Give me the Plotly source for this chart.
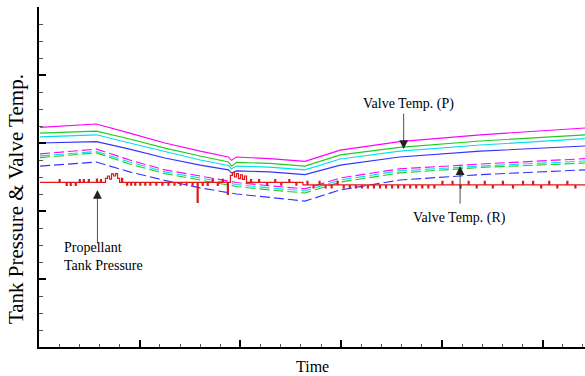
import plotly.graph_objects as go

# ---- data (arbitrary time / value units) ----
t = [1, 57, 90, 125, 160, 188, 191, 196, 229, 264, 299, 358, 438, 542]

valve_p_magenta = [64.6, 65.6, 62.9, 60.0, 57.6, 55.9, 54.9, 55.9, 55.4, 54.6, 57.9, 60.4, 62.4, 64.4]
valve_p_green   = [62.9, 63.5, 61.2, 58.5, 56.2, 54.4, 53.2, 54.3, 54.0, 53.2, 56.5, 58.7, 60.6, 62.4]
valve_p_cyan    = [61.8, 62.4, 60.0, 57.4, 55.0, 53.4, 52.4, 53.2, 52.9, 52.1, 55.3, 57.6, 59.4, 61.3]
valve_p_blue    = [60.0, 60.4, 58.2, 55.6, 53.5, 52.1, 51.2, 51.8, 51.5, 50.7, 53.5, 55.9, 57.6, 59.1]

valve_r_magenta = [56.8, 58.2, 55.0, 52.1, 50.3, 48.8, 48.5, 48.4, 47.4, 46.5, 49.7, 52.4, 53.8, 55.4]
valve_r_cyan    = [56.2, 57.5, 54.4, 51.5, 49.7, 48.2, 47.9, 47.8, 46.8, 45.9, 49.1, 51.8, 53.2, 54.7]
valve_r_green   = [55.7, 57.1, 53.8, 51.0, 49.1, 47.6, 47.4, 47.2, 46.2, 45.3, 48.5, 51.2, 52.8, 54.1]
valve_r_blue    = [53.2, 54.4, 51.5, 49.0, 46.8, 45.4, 45.1, 45.0, 44.0, 42.9, 46.2, 49.1, 50.7, 52.1]

tank_t = [1, 20, 21, 27, 28, 31, 32, 36, 37, 40, 41, 44, 45, 49, 50, 57, 58, 61, 62, 66,
          68, 70, 72, 74, 76, 78, 80, 82, 83, 87, 88, 91, 92, 95, 96, 100, 101, 105, 106, 110,
          111, 116, 117, 122, 123, 128, 129, 134, 135, 140, 141, 146, 147, 152, 153, 157, 158, 162, 163, 167,
          168, 172, 173, 177, 178, 182, 183, 187, 188, 190, 192, 194, 196, 198, 200, 202, 204, 206, 210, 211,
          218, 219, 226, 227, 234, 235, 240, 241, 248, 249, 255, 256, 262, 266, 267, 272, 273, 278, 279, 284,
          285, 290, 291, 296, 297, 302, 303, 308, 309, 314, 315, 320, 321, 326, 327, 332, 333, 338, 339, 344,
          345, 350, 351, 356, 357, 362, 363, 368, 369, 374, 375, 380, 381, 386, 387, 392, 393, 400, 401, 410,
          411, 418, 419, 426, 427, 434, 435, 442, 443, 450, 451, 460, 461, 470, 471, 480, 481, 490, 491, 498,
          499, 506, 507, 514, 515, 524, 525, 532, 533, 542]
tank_p = [48.4, 49.2, 48.4, 47.5, 48.4, 47.5, 48.4, 47.5, 48.4, 49.2, 48.4, 49.2, 48.4, 49.2, 48.4, 49.4, 48.4, 49.2, 48.4, 49.6,
          50.3, 49.4, 50.9, 50.3, 51.0, 49.6, 48.4, 49.6, 48.4, 47.6, 48.4, 47.6, 48.4, 47.6, 48.4, 47.6, 48.4, 47.6, 48.4, 47.6,
          48.4, 47.6, 48.4, 47.6, 48.4, 47.6, 48.4, 47.6, 48.4, 47.6, 48.4, 47.6, 48.4, 47.6, 48.4, 42.5, 48.4, 47.5, 48.4, 47.5,
          48.4, 49.3, 48.4, 47.5, 48.4, 49.3, 48.4, 44.9, 48.4, 50.5, 51.3, 50.0, 51.0, 49.5, 50.6, 49.3, 50.3, 48.4, 49.2, 48.4,
          49.2, 48.4, 47.6, 48.4, 49.2, 48.4, 47.6, 48.4, 49.2, 48.4, 47.6, 48.4, 47.7, 48.7, 47.7, 46.8, 47.7, 48.7, 47.7, 46.8,
          47.7, 46.8, 47.7, 48.7, 47.7, 46.8, 47.7, 46.8, 47.7, 46.8, 47.7, 46.8, 47.7, 46.8, 47.7, 46.8, 47.7, 46.8, 47.7, 46.8,
          47.7, 46.8, 47.7, 46.8, 47.7, 46.8, 47.7, 46.8, 47.7, 46.8, 47.7, 46.8, 47.7, 46.8, 47.7, 46.8, 47.7, 48.7, 47.7, 48.7,
          47.7, 46.8, 47.7, 48.7, 47.7, 46.8, 47.7, 48.7, 47.7, 46.8, 47.7, 48.7, 47.7, 46.8, 47.7, 48.7, 47.7, 48.7, 47.7, 46.8,
          47.7, 48.7, 47.7, 46.8, 47.7, 48.7, 47.7, 46.8, 47.7, 47.7]

x_title = "Time"
y_title = "Tank Pressure & Valve Temp."

SERIF = "Liberation Serif"
DASH = "10px,4px"

fig = go.Figure()

solid = [(valve_p_magenta, "#ff00ff"), (valve_p_green, "#22cc22"),
         (valve_p_cyan, "#00e0f0"), (valve_p_blue, "#3333ff")]
dashed = [(valve_r_magenta, "#ff00ff"), (valve_r_cyan, "#00e0f0"),
          (valve_r_green, "#22cc22"), (valve_r_blue, "#3333ff")]

for ys, c in solid:
    fig.add_trace(go.Scatter(x=t, y=ys, mode="lines", line=dict(color=c, width=1.1)))
for ys, c in dashed:
    fig.add_trace(go.Scatter(x=t, y=ys, mode="lines", line=dict(color=c, width=1.1, dash=DASH)))

fig.add_trace(go.Scatter(x=tank_t, y=tank_p, mode="lines",
                         line=dict(color="#e01818", width=1.2, shape="hv")))

fig.update_layout(
    width=585, height=376,
    margin=dict(l=39, r=0, t=7, b=29),
    paper_bgcolor="white", plot_bgcolor="white",
    showlegend=False,
    font=dict(family=SERIF, color="black"),
)
fig.update_xaxes(range=[0, 542], showgrid=False, zeroline=False,
                 showline=True, linecolor="black", linewidth=2,
                 ticks="inside", ticklen=7, tickwidth=1.5, tickcolor="black",
                 tick0=0, dtick=100, showticklabels=False,
                 minor=dict(ticks="inside", ticklen=3.5, tickwidth=1, tickcolor="#555", dtick=20, showgrid=False))
fig.update_yaxes(range=[0, 100], showgrid=False, zeroline=False,
                 showline=True, linecolor="black", linewidth=2,
                 ticks="inside", ticklen=7, tickwidth=1.5, tickcolor="black",
                 tick0=0, dtick=20, showticklabels=False,
                 minor=dict(ticks="inside", ticklen=3.5, tickwidth=1, tickcolor="#555", dtick=5, showgrid=False))

ann = []
# axis titles
ann.append(dict(text=x_title, xref="paper", yref="paper", x=0.5, y=0, yanchor="middle",
                yshift=-19, showarrow=False, font=dict(size=16, family=SERIF)))
ann.append(dict(text=y_title, xref="paper", yref="paper", x=0, y=0.435, xanchor="center",
                xshift=-23, textangle=-90, showarrow=False, font=dict(size=21, family=SERIF)))
# labels
ann.append(dict(text="Valve Temp. (P)", x=367, y=71.5, showarrow=False, font=dict(size=14, family=SERIF)))
ann.append(dict(text="Valve Temp. (R)", x=417, y=37.9, showarrow=False, font=dict(size=14, family=SERIF)))
ann.append(dict(text="Propellant<br>Tank Pressure", x=23, y=26.5, xanchor="left", align="left",
                showarrow=False, font=dict(size=14, family=SERIF)))
# arrows
arrow_style = dict(text="", showarrow=True, arrowhead=2, arrowsize=2.2, arrowwidth=0.8,
                   arrowcolor="#222", axref="pixel", ayref="pixel")
ann.append(dict(x=362, y=58.2, ax=0, ay=-37, **arrow_style))
ann.append(dict(x=418, y=53.2, ax=0, ay=39, **arrow_style))
ann.append(dict(x=58, y=46.2, ax=0, ay=55, **arrow_style))
fig.update_layout(annotations=ann)

fig.write_html("out.html")
